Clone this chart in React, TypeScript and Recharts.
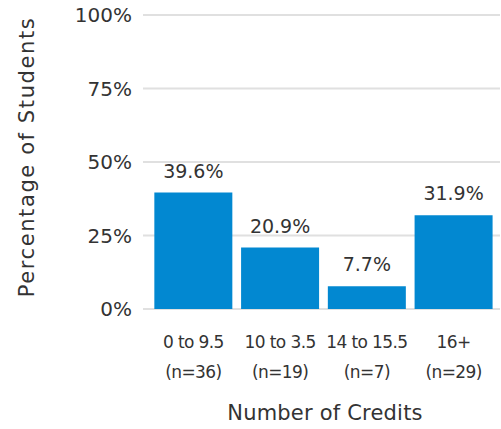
import React from "react";
import { BarChart, Bar, XAxis, YAxis, CartesianGrid, LabelList, Label } from "recharts";

const categories = ["0 to 9.5", "10 to 3.5", "14 to 15.5", "16+"];
const counts = ["(n=36)", "(n=19)", "(n=7)", "(n=29)"];
const percentages = [39.6, 20.9, 7.7, 31.9];
const yTicks = [0, 25, 50, 75, 100];

const data = categories.map((c, i) => ({ name: c, n: counts[i], value: percentages[i] }));

const FONT = "'DejaVu Sans', sans-serif";
const TEXT = "#333333";

const XTick = (props: any) => {
  const { x, y, payload } = props;
  const idx = payload.index;
  return (
    <text x={x} y={y} textAnchor="middle" fill={TEXT} fontFamily={FONT} fontSize={17} letterSpacing={-0.6}>
      <tspan x={x} dy={39}>{categories[idx]}</tspan>
      <tspan x={x} dy={30}>{counts[idx]}</tspan>
    </text>
  );
};

export default function App() {
  return (
    <div style={{ position: "absolute", left: 0, top: 0, width: 501, height: 429, background: "#fff" }}>
      <BarChart
        width={501}
        height={429}
        data={data}
        margin={{ top: 15, right: 1, bottom: 0, left: 0 }}
        barCategoryGap="5%"
      >
        <CartesianGrid vertical={false} stroke="#e0e0e0" strokeWidth={2} />
        <XAxis
          dataKey="name"
          height={120}
          tickLine={false}
          axisLine={false}
          tickSize={0}
          tickMargin={0}
          padding={{ left: 7, right: 3 }}
          interval={0}
          tick={<XTick />}
        >
          <Label
            content={() => (
              <text x={325} y={420} textAnchor="middle" fill={TEXT} fontFamily={FONT} fontSize={21} letterSpacing={0.2}>
                Number of Credits
              </text>
            )}
          />
        </XAxis>
        <YAxis
          width={143}
          domain={[0, 100]}
          ticks={yTicks}
          tickLine={false}
          axisLine={false}
          tickSize={6}
          tickMargin={5}
          tickFormatter={(v: number) => `${v}%`}
          tick={{ fill: TEXT, fontFamily: FONT, fontSize: 20 }}
        >
          <Label
            content={() => (
              <text
                x={27}
                y={157}
                textAnchor="middle"
                dominantBaseline="central"
                transform="rotate(-90 27 157)"
                fill={TEXT}
                fontFamily={FONT}
                fontSize={21}
                letterSpacing={1.6}
              >
                Percentage of Students
              </text>
            )}
          />
        </YAxis>
        <Bar dataKey="value" fill="#0288d1" isAnimationActive={false}>
          <LabelList
            dataKey="value"
            position="top"
            offset={15}
            formatter={(v: number) => `${v}%`}
            style={{ fill: TEXT, fontFamily: FONT, fontSize: 19 }}
          />
        </Bar>
      </BarChart>
    </div>
  );
}
